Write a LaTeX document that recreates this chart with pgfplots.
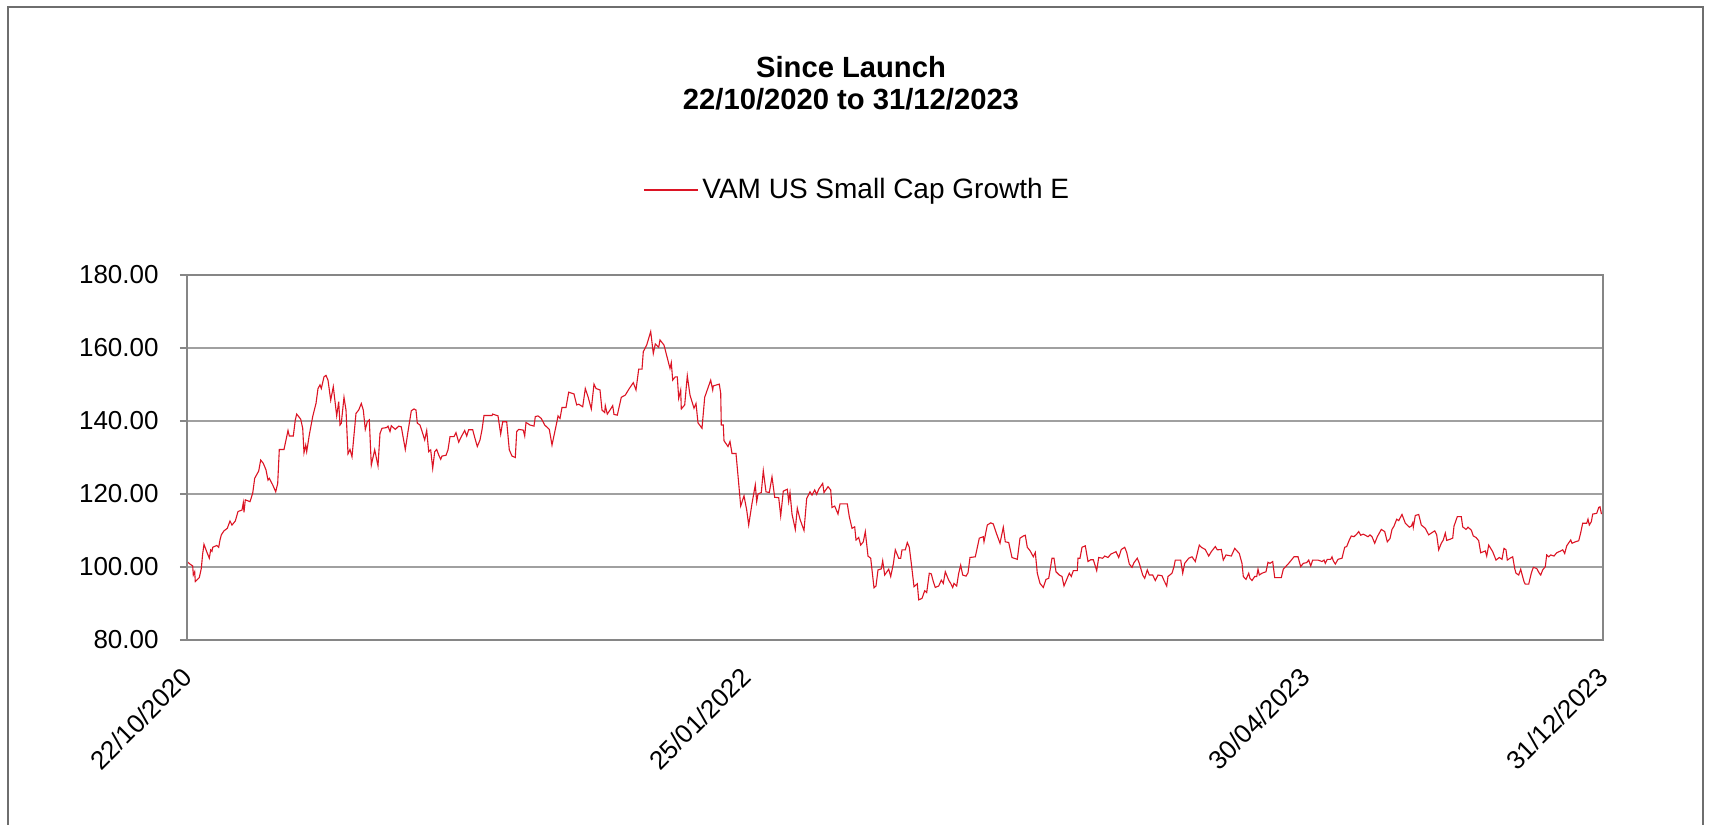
\documentclass[border=0pt]{standalone}
\usepackage{fontspec}
\setmainfont{Liberation Sans}
\usepackage{pgfplots}
\pgfplotsset{compat=1.18}
\definecolor{lineRed}{RGB}{220,20,36}
\definecolor{axGray}{RGB}{134,134,134}
\definecolor{gridGray}{RGB}{160,160,160}
\definecolor{frameGray}{RGB}{110,110,110}
\begin{document}
\begin{tikzpicture}
\useasboundingbox (0,0) rectangle (854.5pt,412.5pt);
\fill[white] (0,0) rectangle (854.5pt,412.5pt);
\draw[frameGray, line width=1pt] (3.75pt,-2pt) -- (3.75pt,408.75pt) -- (851.5pt,408.75pt) -- (851.5pt,-2pt);
\node[anchor=base, font=\fontsize{14.6}{17}\selectfont\bfseries] at (425.5pt,373.5pt) {Since Launch};
\node[anchor=base, font=\fontsize{14.6}{17}\selectfont\bfseries] at (425.5pt,357.5pt) {22/10/2020 to 31/12/2023};
\begin{axis}[
  at={(93.5pt,92.5pt)}, anchor=south west,
  scale only axis, width=708pt, height=182.5pt,
  xmin=0, xmax=1416, ymin=80, ymax=180,
  ytick={80,100,120,140,160,180},
  xtick={0,559,1118,1416},
  xticklabels={22/10/2020,25/01/2022,30/04/2023,31/12/2023},
  ymajorgrids, grid style={gridGray, line width=0.6pt},
  axis line style={draw=none},
  tick align=outside,
  ytick pos=left,
  ytick style={axGray, line width=1.2pt},
  major tick length=3.5pt,
  xtick style={draw=none},
  yticklabel={\pgfmathprintnumber[fixed,fixed zerofill,precision=2]{\tick}},
  /pgf/number format/assume math mode=true,
  yticklabel style={font=\fontsize{13}{15}\selectfont, anchor=east, inner sep=0pt, xshift=-10.5pt},
  xticklabel style={font=\fontsize{13}{15}\selectfont, rotate=45, anchor=east, inner sep=0pt, xshift=-9pt, yshift=-9pt},
  legend style={draw=none, fill=none, inner sep=0pt, at={(0.322,1.233)}, anchor=west, font=\fontsize{14}{16}\selectfont},
  legend image code/.code={\draw[#1] (0pt,0pt) -- (27pt,0pt);},
  clip=false,
]
\addplot[lineRed, line width=0.55pt] coordinates {
(0,101.5) (3,100.8) (5.7,100.3) (6.3,97.8) (7.7,98.7) (8.3,96.0) (12.3,97.1) (14.3,99.6) (15.7,103.7) (17,106.2) (19.7,104.2) (22.3,102.4) (23.7,104.7) (25,104.3) (25.7,105.4) (29.7,105.9) (31.7,105.4) (33,107.4) (34.3,108.8) (37,109.9) (40.3,110.6) (43,112.6) (45,111.5) (48.3,112.6) (51,115.2) (55,115.6) (56.3,117.6) (57,115.0) (58.3,118.4) (63,117.9) (65.7,120.2) (67.7,124.3) (71.7,126.3) (73.7,129.3) (76.3,128.4) (79,126.6) (81,123.8) (82.3,124.3) (85.7,122.5) (88.7,120.6) (90.7,122.9) (92.3,132.2) (97,132.2) (99,134.8) (101,137.4) (102.3,135.9) (106.3,135.9) (108.3,140.3) (109.7,141.9) (113.7,140.5) (115.7,138.0) (117,131.3) (118.7,133.4) (119.7,131.6) (122.3,136.2) (125.7,141.2) (129,144.8) (131,148.9) (133,149.9) (134.3,148.9) (137,152.1) (139,152.5) (141,151.2) (143.7,145.7) (146.3,149.4) (149.7,141.4) (151.7,145.3) (153,138.9) (154.3,139.4) (157,146.5) (159,143.0) (161,131.0) (163,132.2) (165,130.2) (169,142.1) (171.7,143.0) (174.3,144.8) (176.3,143.0) (178.3,137.7) (180.3,139.8) (182.3,140.3) (184.3,127.9) (187.7,132.1) (191,127.7) (193,136.6) (195,138.0) (199.7,138.2) (201,138.6) (203,137.1) (204.3,138.7) (208.3,137.7) (211.7,138.6) (214.3,138.4) (218.3,132.2) (221,137.1) (224.3,142.8) (227,143.3) (229,143.0) (230.3,139.4) (233,138.9)
(235.7,136.6) (237.7,134.8) (239.7,137.4) (241.7,131.6) (243.7,132.1) (245.7,127.0) (247.7,131.6) (249.7,132.2) (251.7,130.7) (253.7,129.5) (255,130.4) (259,130.6) (261,132.1) (263,135.7) (267,135.7) (269,136.8) (271.7,134.2) (274.3,135.7) (277.7,137.4) (279.7,135.9) (281.7,137.6) (285.7,137.6) (287.7,135.5) (290.3,133.0) (293,134.8) (295,137.6) (297,141.5) (305,141.5) (305.7,141.9) (311,141.4) (313.7,136.4) (315.7,139.8) (319.7,139.8) (322.3,132.1) (325,130.4) (328.3,130.0) (329.7,137.1) (331.7,137.7) (336.3,137.5) (337.7,135.9) (339,139.6) (343,138.9) (347,138.6) (348.3,141.2) (351,141.4) (354.3,140.7) (357.7,138.9) (362.3,137.7) (365,133.4) (370.3,140.3) (371,141.4) (373,140.7) (375,143.7) (379,143.7) (381.7,147.9) (387,147.4) (389.7,144.4) (391.7,144.6) (395.7,143.9) (398.3,148.9) (401,146.7) (404.3,143.3) (407,150.1) (409,148.9) (413,148.5) (415,143.0) (417.7,142.3) (418.3,144.2) (420.3,141.9) (423,143.0) (425.7,144.2) (427,141.8) (430.3,141.6) (434.3,146.5) (438.3,147.1) (442.3,148.9) (446.3,150.5) (449,148.5) (451.7,154.2) (455,154.2) (456.3,159.0) (459.7,160.8) (463.7,164.5) (466.3,158.5) (468.3,161.1) (471.7,160.2) (473,162.2)
(477,160.8) (483,154.4) (484.3,156.0) (485.7,151.2) (488.3,152.1) (490.3,152.1) (491.7,146.2) (493.7,148.5) (494.3,143.3) (497.7,144.4) (500.3,152.4) (503,147.1) (507,143.5) (509,144.8) (511,139.5) (515,138.0) (517.7,146.5) (523.7,151.2) (525.7,148.5) (526.3,149.6) (529.7,149.9) (532.3,150.1) (533.7,147.6) (534.3,138.9) (536.3,138.9) (537,134.6) (541,133.0) (543,134.4) (545,131.1) (549,131.1) (551.7,122.9) (553.7,116.7) (557,119.5) (559.7,115.6) (561.7,111.5) (565,117.4) (568.3,122.5) (569.7,117.9) (571,120.0) (574.3,120.4) (576.3,126.4) (579,120.6) (582.3,120.4) (585,124.7) (587.7,119.1) (591.7,119.0) (593.7,114.0) (596.3,120.8) (600.3,121.3) (601.7,117.9) (603,120.4) (605,114.5) (608.3,110.3) (610.3,116.1) (613,113.1) (617,110.0) (619.7,118.8) (623,120.6) (625,119.7) (627.7,121.1) (629.7,119.9) (631.7,121.3) (635.7,122.9) (637,120.4) (641,122.0) (643.7,121.1) (645,116.3) (647.7,116.7) (651,114.5) (653,117.3) (660.3,117.3) (662.3,113.8) (665,110.6) (667.7,111.0) (669,107.4) (671.7,108.1) (673.7,106.0) (676.3,106.9) (678.3,109.7) (681,103.0) (683.7,102.4) (687,94.3) (689,94.8) (691,99.2) (694.3,99.5) (695.7,101.7) (697.7,97.8) (701.7,99.4) (703.7,97.4) (706.3,100.8) (708.3,104.7) (711.7,102.4) (713.7,102.4) (715,104.7) (718.3,104.7) (720.3,106.7) (722.3,105.4)
(724.3,101.0) (727,94.6) (730.3,95.4) (731.7,91.0) (735,91.4) (737.7,93.5) (739.7,93.0) (742.3,98.3) (744.3,98.1) (746.3,96.0) (748.3,94.4) (751.7,94.8) (754.3,96.4) (756.3,95.5) (758.3,98.7) (761.7,96.4) (763.7,95.5) (765.7,94.4) (767,95.5) (769.7,94.8) (771.7,98.3) (773.7,100.5) (775.7,97.8) (779,97.5) (781,98.4) (783,102.6) (788.3,102.8) (792.3,107.9) (796.3,108.3) (797,106.9) (800.3,111.5) (803.7,112.1) (806.3,111.8) (809.7,109.0) (813,106.5) (816.3,110.9) (818.3,106.9) (821.7,106.7) (825,102.6) (830.3,102.1) (833,107.9) (836.3,108.5) (838.3,108.7) (840.3,105.4) (843,104.5) (846.3,102.8) (848.3,104.0) (850.3,98.3) (853,95.5) (856.3,94.4) (859,96.6) (861.7,96.9) (865,102.4) (867,102.4) (869,98.7) (872.3,97.8) (875,97.4) (877,94.8) (879.7,96.6) (882.3,98.3) (884.3,97.4) (886.3,99.0) (890.3,99.0) (891,102.4) (893,102.4) (895,105.4) (898.3,105.8) (901,101.5) (903.7,102.0) (906.3,102.0) (909.7,99.0) (911.7,102.6) (915.7,102.4) (917.7,103.0) (921,102.6) (923.7,103.5) (929,104.2) (931.7,102.6) (934.3,104.8) (937.7,105.4) (939.7,104.0) (942.3,100.8) (945,99.9) (947,101.2) (950.3,102.4) (952.3,101.0)
(955.7,97.8) (957.7,96.9) (960.3,99.2) (962.3,97.8) (965.7,97.8) (968.3,96.3) (971,97.8) (975,97.6) (977,96.3) (979.7,94.8) (981,97.4) (985,98.3) (987,100.1) (988.3,101.9) (993.7,101.9) (995.7,98.3) (997.7,101.0) (1001.7,102.4) (1005,102.8) (1008.3,101.5) (1012.3,106.0) (1014.3,105.4) (1018.3,104.8) (1021.7,103.0) (1024.3,104.2) (1028.3,105.6) (1030.3,104.7) (1034.3,104.8) (1036.3,101.9) (1039,103.3) (1044.3,103.0) (1047.7,105.1) (1052.3,103.7) (1055,101.0) (1056.3,97.4) (1059,96.6) (1061.7,98.3) (1063,96.9) (1065,96.3) (1067.7,97.4) (1069.7,97.4) (1071,99.4) (1072.3,97.8) (1075,98.3) (1079,98.7) (1081,101.3) (1083,101.0) (1085.7,101.5) (1087.7,97.1) (1094.3,97.1) (1096.3,99.4) (1101.7,101.0) (1107,102.8) (1111,102.8) (1113.7,100.1) (1116.3,101.0) (1119.7,101.2) (1121.7,101.9) (1123.7,100.3) (1125.7,101.9) (1131,101.9) (1135,101.5) (1137,101.9) (1138.3,101.0) (1140.3,102.1) (1143.7,102.1) (1145,102.8) (1146.3,101.7) (1148.3,100.8) (1151,102.1) (1155,102.4) (1157.7,105.4) (1159.7,105.6) (1162.3,107.4) (1164.3,108.5) (1167,108.3) (1169.7,109.0) (1171.7,109.7) (1173.7,108.7) (1176.3,109.0) (1181,108.3) (1183,108.8)
(1185,108.3) (1187.7,106.5) (1190.3,108.3) (1194.3,110.3) (1197.7,109.7) (1200.3,106.9) (1203,107.8) (1205,110.3) (1207,111.2) (1209.7,113.1) (1211.7,112.7) (1215,114.4) (1218.3,112.0) (1222.3,110.9) (1224.3,111.2) (1225.7,112.1) (1226.3,110.9) (1228.3,114.1) (1231.7,114.4) (1234.3,111.5) (1238.3,110.6) (1241.7,108.8) (1244.3,109.3) (1247.7,109.9) (1249.7,108.8) (1251.7,104.7) (1254.3,106.5) (1256.3,107.4) (1258.3,109.3) (1259.7,107.3) (1263,107.6) (1265.7,107.9) (1267,111.2) (1270.3,113.8) (1274.3,113.8) (1275.7,111.0) (1279,110.3) (1281,110.9) (1284.3,110.1) (1286.3,108.5) (1289,108.1) (1291.7,107.2) (1293.7,103.9) (1298.3,104.4) (1299.7,103.0) (1301.7,106.0) (1303.7,105.1) (1305.7,104.2) (1309,101.9) (1312.3,102.6) (1315,102.1) (1317,105.1) (1319,104.7) (1320.3,101.9) (1323,102.4) (1325.7,102.8) (1327.7,99.6) (1329,98.3) (1331.7,97.8) (1333.7,99.4) (1335,98.0) (1337,96.0) (1338.3,95.3) (1341.7,95.3) (1344.3,98.3) (1346.3,99.9) (1349.7,99.6) (1352.3,98.3) (1353.7,97.8) (1355.7,99.2) (1358.3,100.1) (1359.7,103.3) (1361.7,102.8) (1363.7,103.3) (1367,103.0) (1369.7,103.9) (1373.7,104.4) (1375.7,104.7) (1377.7,103.7) (1379.7,105.8) (1383.7,107.4) (1385,106.5) (1388.3,106.9) (1391.7,107.2) (1393.7,109.4) (1395.7,112.0) (1399.7,112.0) (1401,113.1) (1402.3,111.5) (1404.3,112.4) (1405.7,114.5) (1409.7,114.7) (1411.7,116.3) (1413,116.5) (1414.3,114.7) (1415.7,114.5)
};
\addlegendentry{VAM US Small Cap Growth E}
\draw[axGray, line width=1.4pt] (rel axis cs:0,0) rectangle (rel axis cs:1,1);
\end{axis}
\end{tikzpicture}
\end{document}
